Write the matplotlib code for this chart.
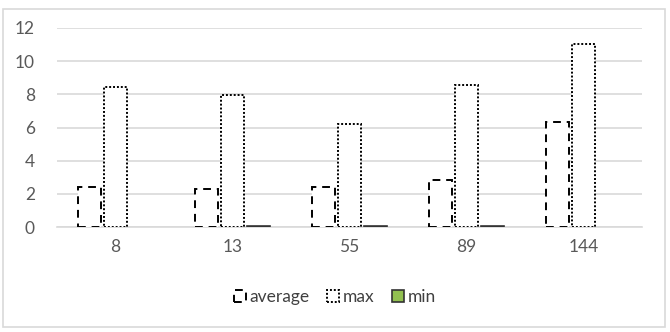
import matplotlib
matplotlib.use("Agg")
import matplotlib.pyplot as plt
import numpy as np

categories = ["8", "13", "55", "89", "144"]
average = [2.4, 2.27, 2.39, 2.82, 6.31]
max_vals = [8.46, 7.96, 6.21, 8.56, 11.04]
min_vals = [0.0, 0.08, 0.06, 0.08, 0.0]

plt.rcParams['font.family'] = ['Lato', 'DejaVu Sans']

fig = plt.figure(figsize=(6.7, 3.32), dpi=100)
ax = fig.add_axes([57/670, 1-227/332, (642-57)/670, 199/332])

x = np.arange(len(categories))
w = 0.19
off = 0.222
ax.bar(x - off, average, width=w, facecolor='white', edgecolor='black',
       linewidth=1.4, linestyle=(0, (4, 3)), zorder=3, label='average')
ax.bar(x, max_vals, width=w, facecolor='white', edgecolor='black',
       linewidth=1.4, linestyle=(0, (1, 1)), zorder=3, label='max')
min_lw = [1.2 if v > 0 else 0 for v in min_vals]
ax.bar(x + off, min_vals, width=w, facecolor='#92c050', edgecolor='#333333',
       linewidth=min_lw, zorder=3, label='min')

ax.set_xlim(-0.5, 4.5)
ax.set_ylim(0, 12)
ax.set_yticks(range(0, 13, 2))
ax.set_xticks(x)
ax.set_xticklabels(categories)
ax.yaxis.grid(True, color='#d9d9d9', linewidth=1.2, zorder=0)
ax.set_axisbelow(True)
for s in ['top', 'right', 'left']:
    ax.spines[s].set_visible(False)
ax.spines['bottom'].set_color('#d9d9d9')
ax.spines['bottom'].set_linewidth(1.2)
ax.tick_params(axis='both', length=0, colors='#595959', labelsize=12.5)
ax.tick_params(axis='y', pad=16)
ax.tick_params(axis='x', pad=9)

leg = fig.legend(loc='center', bbox_to_anchor=(335/670, 1-297/332), ncol=3,
                 frameon=False, fontsize=12.5, handlelength=0.7, handleheight=0.7,
                 handletextpad=0.2, columnspacing=1.0)
for t in leg.get_texts():
    t.set_color('#404040')
leg.legend_handles[2].set_linewidth(1.2)

# chart border
fig.patches.append(plt.Rectangle((3/670, 5/332), 662/670, 318/332, transform=fig.transFigure,
                                 fill=False, edgecolor='#d9d9d9', linewidth=1.2))

fig.savefig('out.png', dpi=100, facecolor='white')
